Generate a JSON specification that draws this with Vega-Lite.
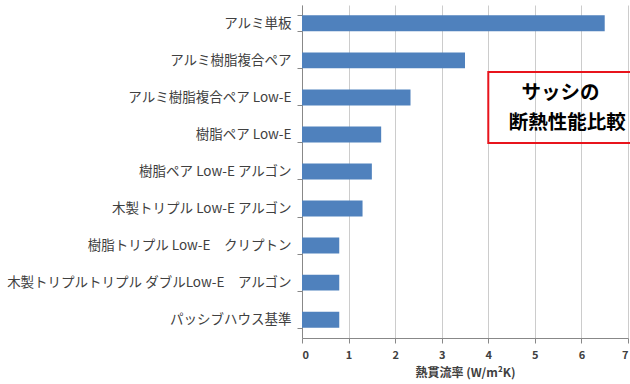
{
  "$schema": "https://vega.github.io/schema/vega-lite/v6.json",
  "autosize": "none",
  "width": 326,
  "height": 333,
  "padding": {"left": 302, "top": 5, "right": 2, "bottom": 46},
  "background": "white",
  "config": {"view": {"stroke": null}},
  "layer": [
    {
      "data": {"values": [
        {"name": "アルミ単板", "u": 6.5},
        {"name": "アルミ樹脂複合ペア", "u": 3.5},
        {"name": "アルミ樹脂複合ペア  Low-E", "u": 2.33},
        {"name": "樹脂ペア  Low-E", "u": 1.7},
        {"name": "樹脂ペア  Low-E アルゴン", "u": 1.5},
        {"name": "木製トリプル  Low-E アルゴン", "u": 1.3},
        {"name": "樹脂トリプル  Low-E　クリプトン", "u": 0.8},
        {"name": "木製トリプルトリプル  ダブルLow-E　アルゴン", "u": 0.8},
        {"name": "パッシブハウス基準", "u": 0.8}
      ]},
      "mark": {"type": "bar", "color": "#4f81bd"},
      "encoding": {
        "y": {"field": "name", "type": "nominal", "sort": null,
          "scale": {"paddingInner": 0.57, "paddingOuter": 0.28},
          "axis": {"title": null, "domainColor": "#888888", "tickColor": "#888888", "tickBand": "extent", "tickSize": 5,
            "labelFont": "Noto Sans CJK JP", "labelFontSize": 13.5, "labelColor": "#404040", "labelPadding": 6, "labelLimit": 400}},
        "x": {"field": "u", "type": "quantitative",
          "scale": {"domain": [0, 7], "nice": false},
          "axis": {"title": "熱貫流率 (W/m²K)", "values": [0,1,2,3,4,5,6,7], "labelOverlap": false,
            "gridColor": "#cccccc", "domainColor": "#888888", "tickColor": "#888888", "tickSize": 5,
            "labelFont": "Noto Sans CJK JP", "labelFontWeight": "bold", "labelFontSize": 11, "labelColor": "#404040", "labelPadding": 6,
            "titleFont": "Noto Sans CJK JP", "titleFontSize": 12, "titleFontWeight": "bold", "titleColor": "#404040", "titlePadding": 7}}
      }
    },
    {
      "data": {"values": [{"x1": 4.0, "x2": 8.0, "y1": 1.81, "y2": 3.73}]},
      "mark": {"type": "rect", "fill": "white", "fillOpacity": 0, "stroke": "#e8141c", "strokeWidth": 2, "clip": false},
      "encoding": {
        "x": {"field": "x1", "type": "quantitative"},
        "x2": {"field": "x2"},
        "y": {"field": "y1", "type": "quantitative", "scale": {"domain": [0, 9], "reverse": true, "nice": false}, "axis": null},
        "y2": {"field": "y2"}
      }
    },
    {
      "data": {"values": [{"t": "サッシの", "x": 5.55, "y": 2.38}]},
      "mark": {"type": "text", "font": "Noto Sans CJK JP", "fontSize": 19.5, "fontWeight": "bold", "color": "black", "clip": false, "baseline": "middle", "align": "center"},
      "encoding": {
        "x": {"field": "x", "type": "quantitative"},
        "y": {"field": "y", "type": "quantitative", "scale": {"domain": [0, 9], "reverse": true, "nice": false}, "axis": null},
        "text": {"field": "t"}
      }
    },
    {
      "data": {"values": [{"t": "断熱性能比較", "x": 4.44, "y": 3.2}]},
      "mark": {"type": "text", "font": "Noto Sans CJK JP", "fontSize": 19.5, "fontWeight": "bold", "color": "black", "clip": false, "baseline": "middle", "align": "left"},
      "encoding": {
        "x": {"field": "x", "type": "quantitative"},
        "y": {"field": "y", "type": "quantitative", "scale": {"domain": [0, 9], "reverse": true, "nice": false}, "axis": null},
        "text": {"field": "t"}
      }
    }
  ],
  "resolve": {"scale": {"y": "independent"}}
}
